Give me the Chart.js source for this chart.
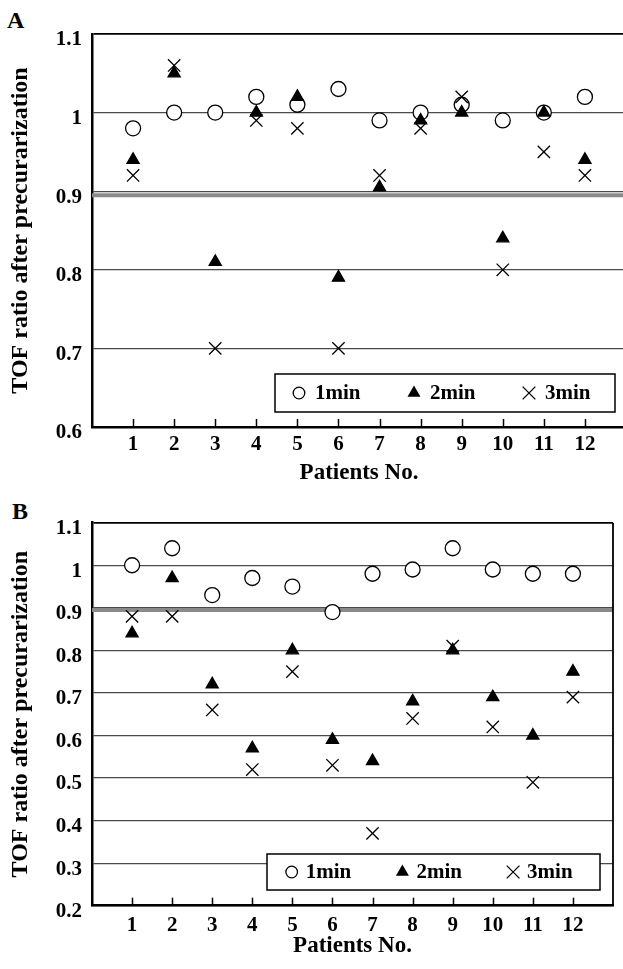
<!DOCTYPE html>
<html lang="en">
<head>
<meta charset="UTF-8">
<title>TOF ratio after precurarization</title>
<script src="https://cdn.jsdelivr.net/npm/chart.js"></script>
<style>
    * {
        margin: 0;
        padding: 0;
        box-sizing: border-box;
    }

    body {
        width: 623px;
        height: 969px;
        overflow: hidden;
        position: relative;
        background: #fff;
        font-family: "Liberation Serif", "Times New Roman", serif;
    }

    .panel-label {
        position: absolute;
        font-size: 24px;
        line-height: 24px;
        font-weight: bold;
        color: #000;
    }

    canvas {
        position: absolute;
        left: 0;
    }

    #chartA { top: 0; }
    #chartB { top: 490px; }
</style>
</head>
<body>
<div class="panel-label" style="left:7px; top:8px;">A</div>
<div class="panel-label" style="left:12px; top:499px;">B</div>
<canvas id="chartA" width="640" height="490"></canvas>
<canvas id="chartB" width="623" height="479"></canvas>

<script>
// ---- data ----
const patients = [1, 2, 3, 4, 5, 6, 7, 8, 9, 10, 11, 12];
const seriesNames = ['1min', '2min', '3min'];

// panel A
const a1min = [0.98, 1.00, 1.00, 1.02, 1.01, 1.03, 0.99, 1.00, 1.01, 0.99, 1.00, 1.02];
const a2min = [0.94, 1.05, 0.81, 1.00, 1.02, 0.79, 0.905, 0.99, 1.00, 0.84, 1.00, 0.94];
const a3min = [0.92, 1.06, 0.70, 0.99, 0.98, 0.70, 0.92, 0.98, 1.02, 0.80, 0.95, 0.92];

// panel B
const b1min = [1.00, 1.04, 0.93, 0.97, 0.95, 0.89, 0.98, 0.99, 1.04, 0.99, 0.98, 0.98];
const b2min = [0.84, 0.97, 0.72, 0.57, 0.80, 0.59, 0.54, 0.68, 0.80, 0.69, 0.60, 0.75];
const b3min = [0.88, 0.88, 0.66, 0.52, 0.75, 0.53, 0.37, 0.64, 0.81, 0.62, 0.49, 0.69];

const yTicksA = [0.6, 0.7, 0.8, 0.9, 1.0, 1.1];
const yTicksB = [0.2, 0.3, 0.4, 0.5, 0.6, 0.7, 0.8, 0.9, 1.0, 1.1];
const xRange = [0, 13];
const thresholdTOF = 0.895;   // grey reference line just under 0.9

const xLabel = 'Patients No.';
const yLabel = 'TOF ratio after precurarization';

Chart.defaults.font.family = '"Liberation Serif", "Times New Roman", serif';
Chart.defaults.color = '#000';

// marker look for each series (circle / filled triangle / x)
const markers = [
    { style: 'circle', radius: 7.5, legendRadius: 5.8, fill: '#fff' },
    { style: 'triangle', radius: 7, legendRadius: 7.5, fill: '#000' },
    { style: 'crossRot', radius: 8.7, legendRadius: 9, fill: '#000' }
];

function drawMarker(ctx, style, x, y, r) {
    ctx.beginPath();
    if (style === 'circle') {
        ctx.arc(x, y, r, 0, Math.PI * 2);
        ctx.fillStyle = '#fff';
        ctx.fill();
        ctx.stroke();
    } else if (style === 'triangle') {
        ctx.moveTo(x, y - r);
        ctx.lineTo(x + r * 0.866, y + r / 2);
        ctx.lineTo(x - r * 0.866, y + r / 2);
        ctx.closePath();
        ctx.fillStyle = '#000';
        ctx.fill();
    } else {
        const d = r * 0.7071;
        ctx.moveTo(x - d, y - d);
        ctx.lineTo(x + d, y + d);
        ctx.moveTo(x + d, y - d);
        ctx.lineTo(x - d, y + d);
        ctx.stroke();
    }
}

// inward x ticks, optional right frame and the boxed legend
const panelDeco = {
    id: 'panelDeco',
    afterDraw(chart, args, opts) {
        const { ctx, chartArea: ca } = chart;
        const x = chart.scales.x;
        ctx.save();
        ctx.strokeStyle = '#000';
        ctx.lineWidth = 1.5;
        x.ticks.forEach(t => {
            const px = Math.round(x.getPixelForValue(t.value)) + 0.5;
            ctx.beginPath();
            ctx.moveTo(px, ca.bottom);
            ctx.lineTo(px, ca.bottom - 8);
            ctx.stroke();
        });

        if (opts.rightBorder) {
            ctx.lineWidth = 1.8;
            ctx.beginPath();
            ctx.moveTo(ca.right, ca.top);
            ctx.lineTo(ca.right, ca.bottom);
            ctx.stroke();
        }

        const lg = opts.legend;
        const left = ca.right - lg.right - lg.width;
        const top = ca.bottom - lg.bottom - lg.height;
        ctx.fillStyle = '#fff';
        ctx.fillRect(left, top, lg.width, lg.height);
        ctx.lineWidth = 1.5;
        ctx.strokeRect(left, top, lg.width, lg.height);

        const cy = top + lg.height / 2;
        ctx.font = 'bold 21px "Liberation Serif", "Times New Roman", serif';
        ctx.textBaseline = 'middle';
        ctx.textAlign = 'left';
        seriesNames.forEach((name, i) => {
            const mx = left + lg.first + i * lg.step;
            ctx.strokeStyle = '#000';
            ctx.lineWidth = 1.3;
            drawMarker(ctx, markers[i].style, mx, cy, markers[i].legendRadius);
            ctx.fillStyle = '#000';
            ctx.fillText(name, mx + lg.gap, cy + 1);
        });
        ctx.restore();
    }
};

function makeChart(id, series, yTicks, cfg) {
    const datasets = series.map((vals, i) => ({
        label: seriesNames[i],
        data: patients.map((p, k) => ({ x: p, y: vals[k] })),
        showLine: false,
        pointStyle: markers[i].style,
        pointRadius: markers[i].radius,
        pointBackgroundColor: markers[i].fill,
        pointBorderColor: '#000',
        pointBorderWidth: 1.3,
        order: 3 - i
    }));
    datasets.push({
        label: 'threshold',
        data: xRange.map(v => ({ x: v, y: thresholdTOF })),
        showLine: true,
        borderColor: '#8a8a8a',
        borderWidth: 4,
        pointRadius: 0,
        order: 10
    });

    return new Chart(document.getElementById(id), {
        type: 'scatter',
        data: { datasets },
        plugins: [panelDeco],
        options: {
            responsive: false,
            animation: false,
            events: [],
            layout: { padding: { top: cfg.padTop, right: cfg.padRight, bottom: 0, left: 0 } },
            plugins: {
                legend: { display: false },
                tooltip: { enabled: false },
                panelDeco: { rightBorder: cfg.rightBorder, legend: cfg.legend }
            },
            scales: {
                x: {
                    type: 'linear',
                    min: xRange[0],
                    max: xRange[1],
                    afterBuildTicks: s => { s.ticks = patients.map(v => ({ value: v })); },
                    afterFit: s => { s.height = cfg.xHeight; },
                    grid: { display: false, drawTicks: false },
                    border: { display: true, color: '#000', width: 2.5 },
                    ticks: {
                        autoSkip: false,
                        maxRotation: 0,
                        padding: cfg.xTickPad,
                        color: '#000',
                        font: { size: 21, weight: 'bold' },
                        callback: v => String(v)
                    },
                    title: {
                        display: true,
                        text: xLabel,
                        color: '#000',
                        font: { size: 23, weight: 'bold' },
                        padding: { top: 0, bottom: cfg.xTitlePad }
                    }
                },
                y: {
                    type: 'linear',
                    min: yTicks[0],
                    max: yTicks[yTicks.length - 1],
                    afterBuildTicks: s => { s.ticks = yTicks.map(v => ({ value: v })); },
                    afterFit: s => { s.width = 92; },
                    grid: {
                        drawTicks: false,
                        color: c => (c.tick && c.tick.value > yTicks[yTicks.length - 1] - 0.01) ? '#000' : '#4a4a4a',
                        lineWidth: c => (c.tick && c.tick.value > yTicks[yTicks.length - 1] - 0.01) ? 1.8 : 1.2
                    },
                    border: { display: true, color: '#000', width: 2.5 },
                    ticks: {
                        padding: 10,
                        labelOffset: 6,
                        color: '#000',
                        font: { size: 21, weight: 'bold' },
                        callback: v => String(Math.round(v * 10) / 10)
                    },
                    title: {
                        display: true,
                        text: yLabel,
                        color: '#000',
                        font: { size: 24, weight: 'bold' },
                        padding: { top: 6, bottom: 0 }
                    }
                }
            }
        }
    });
}

makeChart('chartA', [a1min, a2min, a3min], yTicksA, {
    padTop: 34,
    padRight: 14,
    xHeight: 63,
    xTickPad: 5,
    xTitlePad: 2.7,
    rightBorder: false,
    legend: { right: 11, bottom: 15, width: 340, height: 38, first: 24, step: 115, gap: 16 }
});

makeChart('chartB', [b1min, b2min, b3min], yTicksB, {
    padTop: 32.7,
    padRight: 10,
    xHeight: 63.3,
    xTickPad: 7,
    xTitlePad: 8.7,
    rightBorder: true,
    legend: { right: 13, bottom: 15.7, width: 333, height: 36, first: 24.7, step: 110.7, gap: 14 }
});
</script>
</body>
</html>
